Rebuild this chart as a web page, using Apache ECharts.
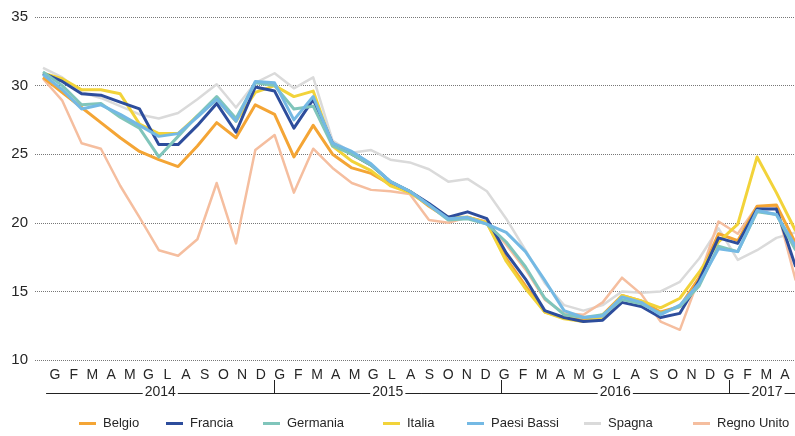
<!DOCTYPE html>
<html><head><meta charset="utf-8">
<script src="https://cdn.jsdelivr.net/npm/echarts@6/dist/echarts.min.js"></script>
<style>html,body{margin:0;padding:0;background:#fff}#c{width:795px;height:436px}</style>
</head><body><div id="c"></div>
<script>
const monthLabels = [
  'G','F','M','A','M','G','L','A','S','O','N','D',
  'G','F','M','A','M','G','L','A','S','O','N','D',
  'G','F','M','A','M','G','L','A','S','O','N','D',
  'G','F','M','A'
];
const yearLabels = ['2014','2015','2016','2017'];
const yearTicks = [12, 24, 36];
const yearLabelPos = [6, 18, 30, 38];

const belgio = [30.6,29.5,28.4,27.3,26.2,25.2,24.6,24.1,25.6,27.3,26.2,28.6,
  27.9,24.8,27.1,25.0,24.0,23.6,22.8,22.3,21.2,20.3,20.4,20.0,
  17.4,15.4,13.5,13.1,12.9,13.3,14.7,14.3,13.5,13.9,16.0,19.2,
  18.7,21.2,21.3,18.5];
const francia = [30.9,30.3,29.4,29.3,28.8,28.3,25.7,25.7,27.1,28.7,26.6,29.9,
  29.6,26.9,29.0,25.8,25.0,24.2,23.0,22.3,21.4,20.4,20.8,20.3,
  17.8,15.9,13.6,13.1,12.8,12.9,14.2,13.9,13.1,13.4,15.8,18.9,
  18.5,21.0,21.0,16.8];
const germania = [31.0,30.0,28.6,28.7,27.7,26.9,24.8,26.3,27.8,29.2,27.6,30.2,
  30.0,28.3,28.5,25.6,25.0,24.2,23.0,22.3,21.3,20.2,20.3,19.9,
  18.6,16.8,14.5,13.3,13.1,13.3,14.4,14.1,13.4,13.9,15.4,18.3,
  17.9,20.8,20.6,18.0];
const italia = [30.9,30.5,29.7,29.7,29.4,27.2,26.5,26.5,27.8,29.0,27.4,29.5,
  30.0,29.2,29.6,25.6,24.5,23.8,22.7,22.2,21.3,20.4,20.4,20.0,
  17.2,15.2,13.5,13.0,12.8,13.1,14.7,14.3,13.8,14.5,16.4,18.6,
  19.9,24.8,22.2,19.4];
const paesiBassi = [30.8,29.7,28.3,28.6,27.9,27.1,26.3,26.5,27.7,29.0,27.4,30.3,
  30.2,27.5,29.2,25.8,25.2,24.3,23.0,22.3,21.3,20.3,20.4,19.9,
  19.3,17.9,15.8,13.6,13.1,13.2,14.6,14.2,13.3,14.0,15.6,18.1,
  17.9,20.9,20.6,18.3];
const spagna = [31.3,30.6,29.5,29.1,28.5,27.9,27.6,28.0,29.0,30.1,28.4,30.2,
  30.9,29.8,30.6,26.0,25.1,25.3,24.6,24.4,23.9,23.0,23.2,22.3,
  20.3,18.0,15.6,14.0,13.6,14.0,15.0,14.9,15.0,15.7,17.4,19.6,
  17.3,18.0,18.9,19.3];
const regnoUnito = [30.5,28.9,25.8,25.4,22.7,20.4,18.0,17.6,18.8,22.9,18.5,25.3,
  26.4,22.2,25.4,24.0,22.9,22.4,22.3,22.1,20.2,20.0,20.4,20.1,
  18.4,16.6,14.4,13.4,13.3,14.2,16.0,14.8,12.8,12.2,16.0,20.1,
  19.2,21.2,21.2,15.8];

const FONT = '"Liberation Sans", Arial, sans-serif';
const TXT = '#262626';

const seriesDefs = [
  {name:'Spagna', data:spagna, color:'#dadada', w:2.5},
  {name:'Regno Unito', data:regnoUnito, color:'#f5be9f', w:2.5},
  {name:'Belgio', data:belgio, color:'#f4a535', w:3},
  {name:'Italia', data:italia, color:'#f2d33a', w:3},
  {name:'Francia', data:francia, color:'#2d4d9c', w:3},
  {name:'Germania', data:germania, color:'#80c5bb', w:3},
  {name:'Paesi Bassi', data:paesiBassi, color:'#74b9e4', w:3}
];

const legendPos = [
  ['Belgio', 79], ['Francia', 166], ['Germania', 263], ['Italia', 383],
  ['Paesi Bassi', 467], ['Spagna', 584], ['Regno Unito', 693]
];

const chart = echarts.init(document.getElementById('c'), null, {renderer:'canvas'});
chart.setOption({
  animation: false,
  backgroundColor: '#fff',
  textStyle: {fontFamily: FONT},
  grid: [
    {left: 35, top: 17, width: 768.4, height: 343, outerBoundsMode: 'none'},
    {left: 45.6, top: 17, width: 748.8, height: 343, outerBoundsMode: 'none'},
    {left: 46.5, top: 17, width: 758.4, height: 376, outerBoundsMode: 'none'}
  ],
  xAxis: [
    {type:'value', gridIndex:0, min:-0.415, max:39.4, show:false},
    {type:'category', gridIndex:1, data: monthLabels, boundaryGap:true,
     axisLine:{show:false}, axisTick:{show:false}, splitLine:{show:false},
     axisLabel:{interval:0, margin:8, fontSize:14, color:TXT, fontFamily:FONT}},
    {type:'value', gridIndex:2, min:0, max:40, splitLine:{show:false},
     axisLine:{show:true, onZero:false, lineStyle:{color:'#222', width:1}},
     axisTick:{show:true, inside:true, length:13, customValues: yearTicks, lineStyle:{color:'#222', width:1}},
     axisLabel:{show:true, customValues: yearLabelPos, margin:-8, fontSize:14, color:TXT, fontFamily:FONT,
       backgroundColor:'#fff', padding:[0,2],
       formatter: v => yearLabels[Math.min(3, Math.floor(v/12))]}}
  ],
  yAxis: [
    {type:'value', gridIndex:0, min:10, max:35, interval:5,
     axisLine:{show:false}, axisTick:{show:false},
     axisLabel:{margin:7, fontSize:15, color:TXT, fontFamily:FONT},
     splitLine:{show:true, lineStyle:{type:[1,1], color:'#777', width:1}}},
    {type:'value', gridIndex:1, min:0, max:1, show:false},
    {type:'value', gridIndex:2, min:0, max:1, show:false}
  ],
  legend: legendPos.map(([n, l]) => ({
    data:[n], left:l, top:417, itemWidth:17, itemHeight:3, icon:'rect',
    itemGap:0, padding:0,
    textStyle:{fontSize:13, color:TXT, fontFamily:FONT, padding:[0,0,0,2]}
  })),
  series: seriesDefs.map(s => ({
    name:s.name, type:'line', xAxisIndex:0, yAxisIndex:0,
    data: s.data.map((v,i)=>[i,v]),
    showSymbol:false, symbol:'none', smooth:false,
    lineStyle:{color:s.color, width:s.w, join:'round'},
    itemStyle:{color:s.color},
    emphasis:{disabled:true}
  }))
});
</script></body></html>
